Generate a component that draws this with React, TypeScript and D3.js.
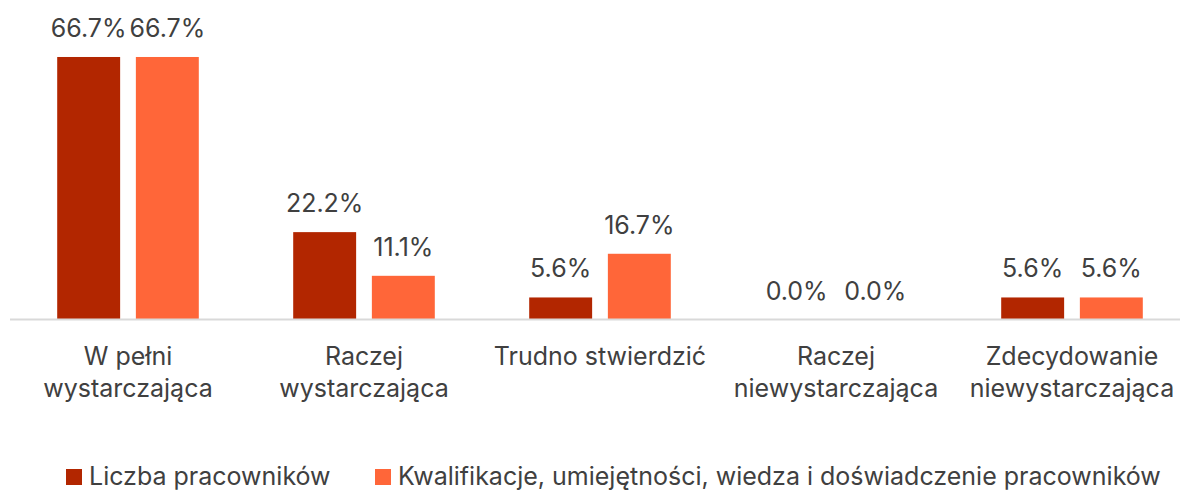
import React from 'react';
import * as d3 from 'd3';

const width = 1180, height = 491;
const margin = { left: 10, right: -10, top: 44, bottom: 172 };

// categories (already split into lines as in the picture)
const categories = ['W pełni wystarczająca', 'Raczej wystarczająca', 'Trudno stwierdzić', 'Raczej niewystarczająca', 'Zdecydowanie niewystarczająca'];
const categoryLines = [
    ['W pełni', 'wystarczająca'],
    ['Raczej', 'wystarczająca'],
    ['Trudno stwierdzić'],
    ['Raczej', 'niewystarczająca'],
    ['Zdecydowanie', 'niewystarczająca']
];

const seriesNames = ['Liczba pracowników', 'Kwalifikacje, umiejętności, wiedza i doświadczenie pracowników'];
const liczba = [66.7, 22.2, 5.6, 0.0, 5.6];
const kwalifikacje = [66.7, 11.1, 16.7, 0.0, 5.6];
const seriesValues = [liczba, kwalifikacje];
const colors = ['#B22600', '#FF6639'];

const font = 'Inter, "Noto Sans", sans-serif';
const fontSize = 25;
const textColor = '#404040';

export default function App() {
    const baseline = height - margin.bottom + 0.5;

    // outer scale for categories, inner for the two series
    const x0 = d3.scaleBand<string>()
        .domain(categories)
        .range([margin.left, width - margin.right])
        .paddingInner(0.4)
        .paddingOuter(0.2);

    const x1 = d3.scaleBand<string>()
        .domain(seriesNames)
        .range([0, x0.bandwidth()])
        .paddingInner(0.2);

    const y = d3.scaleLinear()
        .domain([0, 70])
        .range([baseline, margin.top]);

    const fmt = (v: number) => v.toFixed(1) + '%';

    // legend item x offsets
    const legendX = [0, 309];

    return (
        <svg width={width} height={height} viewBox={`0 0 ${width} ${height}`}
            style={{ position: 'absolute', left: 0, top: 0, background: '#fff' }}>
            {/* bars and value labels */}
            {categories.map((cat, i) => (
                <g key={cat} transform={`translate(${x0(cat)},0)`}>
                    {seriesNames.map((s, j) => {
                        const v = seriesValues[j][i];
                        const bx = x1(s) as number;
                        return (
                            <g key={s}>
                                <rect x={bx} y={y(v)} width={x1.bandwidth()} height={baseline - y(v)} fill={colors[j]} />
                                <text x={bx + x1.bandwidth() / 2} y={y(v) - 20} textAnchor="middle"
                                    fontFamily={font} fontSize={fontSize} fill={textColor}>{fmt(v)}</text>
                            </g>
                        );
                    })}
                </g>
            ))}

            {/* category axis line */}
            <line x1={margin.left} x2={width - margin.right} y1={baseline} y2={baseline} stroke="#D9D9D9" strokeWidth={2} />

            {/* category labels */}
            {categories.map((cat, i) => (
                <text key={cat} x={(x0(cat) as number) + x0.bandwidth() / 2} y={baseline + 45}
                    textAnchor="middle" fontFamily={font} fontSize={fontSize} fill={textColor}>
                    {categoryLines[i].map((line, k) => (
                        <tspan key={k} x={(x0(cat) as number) + x0.bandwidth() / 2} dy={k === 0 ? 0 : 32}>{line}</tspan>
                    ))}
                </text>
            ))}

            {/* legend */}
            <g transform="translate(66, 469)">
                {seriesNames.map((s, j) => (
                    <g key={s} transform={`translate(${legendX[j]},0)`}>
                        <rect x={0} y={0} width={16} height={16} fill={colors[j]} />
                        <text x={23} y={16} fontFamily={font} fontSize={fontSize} fill={textColor}>{s}</text>
                    </g>
                ))}
            </g>
        </svg>
    );
}
